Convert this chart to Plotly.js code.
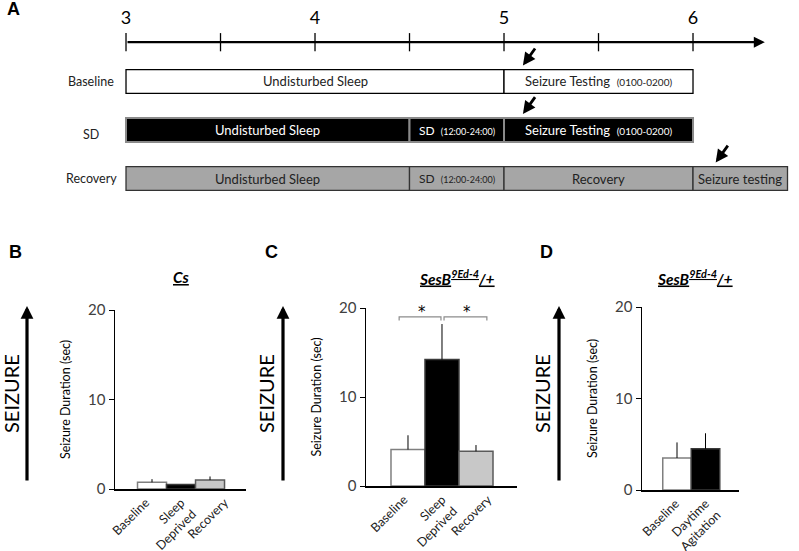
<!DOCTYPE html>
<html><head><meta charset="utf-8">
<script src="https://cdn.plot.ly/plotly-3.0.1.min.js"></script>
<style>html,body{margin:0;padding:0;background:#fff}</style>
</head><body><div id="chart" style="width:799px;height:551px"></div>
<script>
// ---------- Panel A : experimental timeline (days) ----------
const rowNames = ['Baseline', 'SD', 'Recovery'];
const segRow   = [1, 1, 2, 2, 2, 3, 3, 3, 3];
const segStart = [3, 5, 3, 4.5, 5, 3, 4.5, 5, 6];
const segEnd   = [5, 6, 4.5, 5, 6, 4.5, 5, 6, 6.5];
const segMain  = ['Undisturbed Sleep', 'Seizure Testing', 'Undisturbed Sleep', 'SD', 'Seizure Testing',
                  'Undisturbed Sleep', 'SD', 'Recovery', 'Seizure testing'];
const segSub   = ['', '(0100-0200)', '', '(12:00-24:00)', '(0100-0200)', '', '(12:00-24:00)', '', ''];
const dayTicks  = [3, 3.5, 4, 4.5, 5, 5.5, 6];
const dayLabels = [3, 4, 5, 6];
const testDay   = [5.1, 5.1, 6.12];   // seizure testing time pointed at per row

// ---------- Panel B : Cs ----------
const catsB = ['Baseline', 'Sleep<br>Deprived', 'Recovery'];
const meanB = [0.75, 0.5, 1.0];
const semB  = [0.35, 0, 0.4];
// ---------- Panel C : SesB9Ed-4/+ ----------
const catsC = ['Baseline', 'Sleep<br>Deprived', 'Recovery'];
const meanC = [4.1, 14.2, 3.9];
const semC  = [1.6, 4.0, 0.7];
const sigPairsC = [[0, 1], [1, 2]];
// ---------- Panel D : SesB9Ed-4/+ ----------
const catsD = ['Baseline', 'Daytime<br>Agitation'];
const meanD = [3.5, 4.5];
const semD  = [1.7, 1.7];

// ---------- styles ----------
const FONT = 'Lato, "Open Sans", sans-serif';
const rowFill = {1: '#ffffff', 2: '#000000', 3: '#a6a6a6'};
const rowLine = {1: '#000000', 2: '#8a8a8a', 3: '#333333'};
const rowLineW = {1: 1.3, 2: 2, 3: 1.3};
const rowText = {1: '#222222', 2: '#ffffff', 3: '#222222'};
const LINE_Y = 0.19, LABEL_Y = -0.27;
const barFill = ['#ffffff', '#000000', '#c8c8c8'];
const barLine = ['#7f7f7f', '#3a3a3a', '#5a5a5a'];

const traces = [];
const annotations = [];

// timeline segments
traces.push({
  type: 'bar', orientation: 'h', xaxis: 'x4', yaxis: 'y4',
  y: segRow, base: segStart, x: segEnd.map((e, i) => e - segStart[i]),
  width: 0.49,
  marker: {color: segRow.map(r => rowFill[r]),
           line: {color: segRow.map(r => rowLine[r]), width: segRow.map(r => rowLineW[r])}},
  hoverinfo: 'skip', showlegend: false
});
segMain.forEach((m, i) => {
  const r = segRow[i];
  const small = m === 'SD' ? 9 : 10;
  const main = m === 'SD' ? 12 : 13;
  annotations.push({
    xref: 'x4', yref: 'y4', x: (segStart[i] + segEnd[i]) / 2, y: r, showarrow: false,
    xanchor: 'center', yanchor: 'middle',
    text: segSub[i] ? m + '  <span style="font-size:' + small + 'px">' + segSub[i] + '</span>' : m,
    font: {family: FONT, size: main, color: rowText[r]}
  });
});
// row labels
rowNames.forEach((n, i) => {
  annotations.push({xref: 'paper', yref: 'y4', x: 91 / 799, y: i + 1 + (n === 'SD' ? 0.1 : 0),
    xanchor: 'center', yanchor: 'middle',
    showarrow: false, text: n, font: {family: FONT, size: 12.5, color: '#222'}});
});
// timeline axis line and ticks
annotations.push({xref: 'x4', yref: 'y4', axref: 'x4', ayref: 'y4', x: 6.38, y: LINE_Y, ax: dayTicks[0], ay: LINE_Y,
  showarrow: true, arrowhead: 2, arrowsize: 1, arrowwidth: 2.2, arrowcolor: '#000', text: ''});
traces.push({type: 'scatter', mode: 'markers', xaxis: 'x4', yaxis: 'y4', x: dayTicks, y: dayTicks.map(() => LINE_Y),
  marker: {symbol: 'line-ns-open', size: 13, color: '#000', line: {width: 1.3, color: '#000'}},
  cliponaxis: false, hoverinfo: 'skip', showlegend: false});
traces.push({type: 'scatter', mode: 'text', xaxis: 'x4', yaxis: 'y4', x: dayLabels, y: dayLabels.map(() => LABEL_Y),
  text: dayLabels.map(String), textfont: {family: FONT, size: 18, color: '#000'}, cliponaxis: false,
  hoverinfo: 'skip', showlegend: false});
// seizure testing pointers
testDay.forEach((d, i) => {
  const r = i + 1;
  annotations.push({xref: 'x4', yref: 'y4', axref: 'x4', ayref: 'y4', x: d, y: r - 0.33, ax: d + 0.07, ay: r - 0.71,
    showarrow: true, arrowhead: 2, arrowsize: 0.9, arrowwidth: 2.8, arrowcolor: '#000', text: ''});
});

// bar panels
function barPanel(xa, ya, cats, mean, sem) {
  traces.push({
    type: 'bar', xaxis: xa, yaxis: ya, x: cats.map((_, i) => i), y: mean, width: 1,
    marker: {color: barFill.slice(0, cats.length), line: {color: barLine.slice(0, cats.length), width: 1.5}},
    error_y: {type: 'data', symmetric: false, array: sem, arrayminus: sem.map(() => 0), color: '#000', thickness: 1, width: 0},
    hoverinfo: 'skip', showlegend: false
  });
}
barPanel('x', 'y', catsB, meanB, semB);
barPanel('x2', 'y2', catsC, meanC, semC);
barPanel('x3', 'y3', catsD, meanD, semD);

// significance brackets in C
const bracketSpan = [[-0.26, 0.97], [1.06, 2.32]];
sigPairsC.forEach((p, k) => {
  const [a, b] = bracketSpan[k];
  traces.push({type: 'scatter', mode: 'lines', xaxis: 'x2', yaxis: 'y2', x: [a, a, b, b], y: [18.6, 19.0, 19.0, 18.6],
    line: {color: '#8c8c8c', width: 1.2}, cliponaxis: false, hoverinfo: 'skip', showlegend: false});
  annotations.push({xref: 'x2', yref: 'y2', x: (a + b) / 2 + 0.05, y: 19.6, showarrow: false, text: '*',
    xanchor: 'center', yanchor: 'middle', font: {family: 'DejaVu Sans', size: 15, color: '#000000'}});
});

// panel letters, titles, SEIZURE arrows
const letters = [['A', 13, 9], ['B', 15, 252], ['C', 271, 252], ['D', 546, 252]];
letters.forEach(([t, x, y]) => annotations.push({xref: 'paper', yref: 'paper', x: x / 799, y: 1 - y / 551,
  xanchor: 'center', yanchor: 'middle',
  showarrow: false, text: '<b>' + t + '</b>', font: {family: 'Liberation Sans, Arial', size: 18, color: '#000'}}));
const U = s => '<span style="text-decoration:underline"><b><i>' + s + '</i></b></span>';
[[U('Cs'), 181], [U('SesB<sup>9Ed-4</sup>/+'), 457], [U('SesB<sup>9Ed-4</sup>/+'), 695]].forEach(([t, x]) =>
  annotations.push({xref: 'paper', yref: 'paper', x: x / 799, y: 1 - 277 / 551, showarrow: false, text: t,
    xanchor: 'center', yanchor: 'middle', font: {family: FONT, size: 15.5, color: '#000'}}));
[[27, 11], [283, 266], [559, 542]].forEach(([ax, tx]) => {
  annotations.push({xref: 'paper', yref: 'paper', x: ax / 799, y: 1 - 306 / 551, ax: 0, ay: 176,
    showarrow: true, arrowhead: 2, arrowsize: 0.8, arrowwidth: 3.2, arrowcolor: '#000', text: ''});
  annotations.push({xref: 'paper', yref: 'paper', x: tx / 799, y: 1 - 394 / 551, showarrow: false, textangle: -90,
    xanchor: 'center', yanchor: 'middle',
    text: 'SEIZURE', font: {family: FONT, size: 20, color: '#000'}});
});

function yax(domTop, domBot) {
  return {domain: [1 - domBot / 551, 1 - domTop / 551], range: [0, 20], tickvals: [0, 10, 20],
    showline: true, linecolor: '#000', linewidth: 1.5, ticks: 'outside', ticklen: 5, tickcolor: '#000',
    showgrid: false, zeroline: false, fixedrange: true,
    tickfont: {family: FONT, size: 15, color: '#404040'},
    title: {text: 'Seizure Duration (sec)', font: {family: FONT, size: 12.5, color: '#000'}, standoff: 14}};
}
// label anchor offsets (category units): Excel spreads rotated labels wider than the bars
function xax(l, r, range, cats, anchor, shift) {
  return {domain: [l / 799, r / 799], range: range, anchor: anchor,
    tickvals: cats.map((_, i) => i + shift[i]), ticktext: cats,
    tickangle: -45, showline: true, linecolor: '#000', linewidth: 1.5, ticks: '', showgrid: false, zeroline: false,
    fixedrange: true, tickfont: {family: FONT, size: 12.5, color: '#222'}};
}

const layout = {
  width: 799, height: 551, margin: {l: 0, r: 0, t: 0, b: 0}, paper_bgcolor: '#fff', plot_bgcolor: 'rgba(0,0,0,0)',
  barmode: 'overlay', showlegend: false, font: {family: FONT},
  xaxis: xax(115, 246, [-1.276, 3.24], catsB, 'y', [-0.22, 0, 0.5]),
  yaxis: Object.assign(yax(310, 489), {anchor: 'x'}),
  xaxis2: xax(366, 517, [-1.235, 3.206], catsC, 'y2', [-0.12, 0, 0.35]),
  yaxis2: Object.assign(yax(308, 486), {anchor: 'x2'}),
  xaxis3: xax(642, 739, [-1.228, 2.175], catsD, 'y3', [-0.05, 0]),
  yaxis3: Object.assign(yax(307, 490), {anchor: 'x3'}),
  xaxis4: {domain: [0, 1], range: [2.3333, 6.5608], anchor: 'y4', visible: false, fixedrange: true},
  yaxis4: {domain: [1 - 200 / 551, 1], range: [3.443, -0.680], anchor: 'x4', visible: false, fixedrange: true},
  annotations: annotations
};

Plotly.newPlot('chart', traces, layout, {staticPlot: true, displayModeBar: false});
</script></body></html>
